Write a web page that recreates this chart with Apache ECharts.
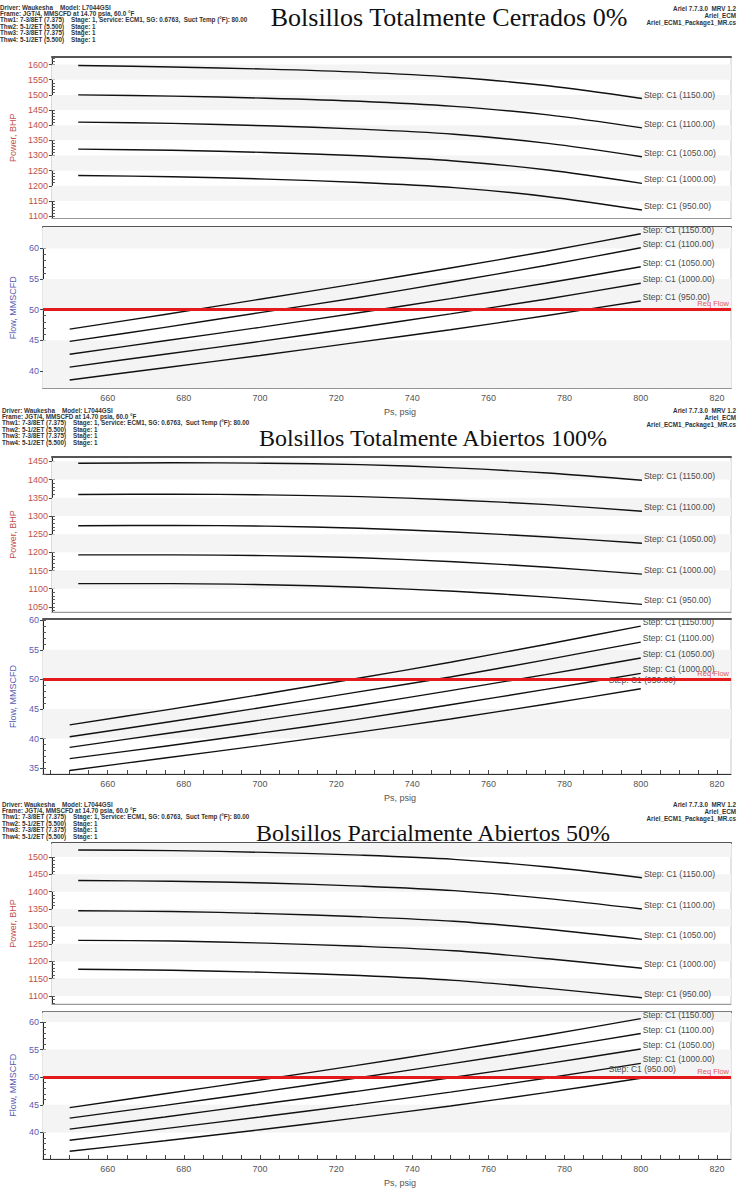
<!DOCTYPE html>
<html><head><meta charset="utf-8">
<script src="https://cdn.jsdelivr.net/npm/echarts@6/dist/echarts.min.js"></script>
<style>html,body{margin:0;padding:0;background:#fff}#c{width:738px;height:1188px}</style>
</head><body><div id="c"></div>
<script>
// ---------------- DATA ----------------
const psig = [650, 675, 700, 725, 750, 775, 800];
const xTicks = [660, 680, 700, 720, 740, 760, 780, 800, 820];
const stepLabels = ['Step: C1 (1150.00)', 'Step: C1 (1100.00)', 'Step: C1 (1050.00)', 'Step: C1 (1000.00)', 'Step: C1 (950.00)'];
const reqFlow = 50;

// Bolsillos Totalmente Cerrados 0%
const closedPower = [
  [1597, 1592, 1585, 1575, 1558, 1530, 1488],
  [1500, 1496, 1489, 1479, 1462, 1434, 1391],
  [1410, 1406, 1398, 1387, 1370, 1340, 1296],
  [1321, 1317, 1310, 1299, 1282, 1252, 1208],
  [1234, 1230, 1222, 1211, 1194, 1164, 1120]
];
const closedFlow = [
  [46.8, 49.2, 51.7, 54.2, 56.8, 59.5, 62.4],
  [44.8, 47.1, 49.5, 51.9, 54.5, 57.2, 60.1],
  [42.7, 44.9, 47.1, 49.4, 51.8, 54.3, 57.0],
  [40.6, 42.7, 44.8, 47.0, 49.3, 51.7, 54.3],
  [38.5, 40.5, 42.5, 44.6, 46.7, 49.0, 51.4]
];
// Bolsillos Totalmente Abiertos 100%
const openPower = [
  [1445, 1446, 1445, 1441, 1432, 1418, 1398],
  [1359, 1360, 1358, 1353, 1344, 1331, 1313],
  [1273, 1274, 1272, 1266, 1256, 1242, 1225],
  [1193, 1193, 1191, 1185, 1174, 1159, 1140],
  [1114, 1114, 1111, 1104, 1093, 1077, 1057]
];
const openFlow = [
  [42.3, 44.8, 47.4, 50.1, 52.9, 55.9, 59.0],
  [40.3, 42.7, 45.2, 47.8, 50.4, 53.3, 56.3],
  [38.5, 40.8, 43.1, 45.5, 48.1, 50.8, 53.6],
  [36.6, 38.7, 40.9, 43.2, 45.7, 48.3, 51.0],
  [34.6, 36.7, 38.8, 41.0, 43.3, 45.8, 48.4]
];
// Bolsillos Parcialmente Abiertos 50%
const halfPower = [
  [1520, 1518, 1513, 1505, 1493, 1471, 1440],
  [1432, 1430, 1425, 1416, 1403, 1380, 1350],
  [1345, 1343, 1337, 1328, 1315, 1292, 1263],
  [1260, 1258, 1252, 1243, 1230, 1207, 1180],
  [1177, 1174, 1168, 1159, 1145, 1122, 1095]
];
const halfFlow = [
  [44.5, 47.0, 49.5, 52.1, 54.8, 57.6, 60.6],
  [42.6, 44.9, 47.3, 49.8, 52.4, 55.1, 57.9],
  [40.6, 42.8, 45.1, 47.4, 49.9, 52.4, 55.1],
  [38.6, 40.7, 42.8, 45.0, 47.3, 49.8, 52.5],
  [36.6, 38.5, 40.5, 42.6, 44.8, 47.2, 49.8]
];

const closedPowerTicks = [1100, 1150, 1200, 1250, 1300, 1350, 1400, 1450, 1500, 1550, 1600];
const closedFlowTicks = [40, 45, 50, 55, 60];
const openPowerTicks = [1050, 1100, 1150, 1200, 1250, 1300, 1350, 1400, 1450];
const openFlowTicks = [35, 40, 45, 50, 55, 60];
const halfPowerTicks = [1100, 1150, 1200, 1250, 1300, 1350, 1400, 1450, 1500];
const halfFlowTicks = [40, 45, 50, 55, 60];

const titles = ['Bolsillos Totalmente Cerrados 0%', 'Bolsillos Totalmente Abiertos 100%', 'Bolsillos Parcialmente Abiertos 50%'];
const headerLeft = [
  'Driver: Waukesha    Model: L7044GSI',
  'Frame: JGT/4, MMSCFD at 14.70 psia, 60.0 °F',
  'Thw1: 7-3/8ET (7.375)    Stage: 1, Service: ECM1, SG: 0.6763,  Suct Temp (°F): 80.00',
  'Thw2: 5-1/2ET (5.500)    Stage: 1',
  'Thw3: 7-3/8ET (7.375)    Stage: 1',
  'Thw4: 5-1/2ET (5.500)    Stage: 1'
];
const headerRight = ['Ariel 7.7.3.0  MRV 1.2', 'Ariel_ECM', 'Ariel_ECM1_Package1_MR.cs'];

// ---------------- LAYOUT ----------------
const GL = 43, GW = 688;
const XMIN = 643, XMAX = 823.7;
const SANS = '"Liberation Sans", Arial, sans-serif';
const POWER_C = '#c0504d', FLOW_C = '#5a5ab4';

const panels = [
  {top: 57, h: 161.5, min: 1092, max: 1625, ticks: closedPowerTicks, minor: 10, kind: 'power', data: closedPower, bands: [[1550,1600],[1450,1500],[1350,1400],[1250,1300],[1150,1200]]},
  {top: 227, h: 161.5, min: 37.1, max: 63.5, ticks: closedFlowTicks, minor: 1, kind: 'flow', data: closedFlow, bands: [[60,63.5],[50,55],[37.1,45]], c950: false},
  {top: 457, h: 155, min: 1036, max: 1462, ticks: openPowerTicks, minor: 10, kind: 'power', data: openPower, bands: [[1400,1450],[1300,1350],[1200,1250],[1100,1150]]},
  {top: 619, h: 155, min: 34, max: 60.2, ticks: openFlowTicks, minor: 1, kind: 'flow', data: openFlow, bands: [[50,55],[40,45]], c950: true},
  {top: 843, h: 161, min: 1077, max: 1540, ticks: halfPowerTicks, minor: 10, kind: 'power', data: halfPower, bands: [[1500,1540],[1400,1450],[1300,1350],[1200,1250],[1100,1150]]},
  {top: 1011.7, h: 158.3, min: 35.2, max: 61.85, ticks: halfFlowTicks, minor: 1, kind: 'flow', data: halfFlow, bands: [[60,61.85],[50,55],[40,45]], c950: true}
];

const grid = [], xAxis = [], yAxis = [], series = [];
const xMinorTicks = [];
for (let v = 645; v <= 820; v += 5) xMinorTicks.push(v);
const plain = v => String(v);

panels.forEach((p, g) => {
  grid.push({left: GL, top: p.top, width: GW, height: p.h, show: true, borderColor: '#c8c8c8', borderWidth: 1, backgroundColor: '#fff'});
  const isFlow = p.kind === 'flow';
  xAxis.push({
    type: 'value', gridIndex: g, min: XMIN, max: XMAX, position: 'bottom',
    name: isFlow ? 'Ps, psig' : '', nameLocation: 'middle', nameGap: 19,
    nameTextStyle: {fontFamily: SANS, fontSize: 9, color: '#555', padding: [0, 0, 0, 26]},
    axisLine: {show: true, onZero: false, lineStyle: {color: isFlow ? '#333' : '#999', width: 1}},
    axisTick: {show: isFlow, inside: true, length: 4, customValues: xMinorTicks, lineStyle: {color: '#444'}},
    axisLabel: {show: isFlow, customValues: xTicks, formatter: plain, fontFamily: SANS, fontSize: 9, color: '#555', margin: 5},
    splitLine: {show: false}
  });
  xAxis.push({
    type: 'value', gridIndex: g, min: XMIN, max: XMAX, position: 'top',
    axisLine: {show: true, onZero: false, lineStyle: {color: '#555', width: 2}},
    axisTick: {show: false}, axisLabel: {show: false}, splitLine: {show: false}
  });
  const col = isFlow ? FLOW_C : POWER_C;
  yAxis.push({
    type: 'value', gridIndex: g, min: p.min, max: p.max, position: 'left',
    name: isFlow ? 'Flow, MMSCFD' : 'Power, BHP', nameLocation: 'middle', nameGap: 26,
    nameTextStyle: {fontFamily: SANS, fontSize: 9, color: col},
    axisLine: {show: true, onZero: false, lineStyle: {color: '#222', width: 1}},
    axisTick: {show: true, inside: false, length: 3, customValues: p.ticks, lineStyle: {color: '#444'}},
    axisLabel: {customValues: p.ticks, formatter: plain, fontFamily: SANS, fontSize: 9, color: col, margin: 4},
    splitLine: {show: false}
  });
  const minorVals = [];
  const st = p.minor;
  for (let v = Math.ceil(p.min / st) * st; v <= p.max; v += st) minorVals.push(+v.toFixed(3));
  yAxis.push({
    type: 'value', gridIndex: g, min: p.min, max: p.max, position: 'left',
    axisLine: {show: false},
    axisTick: {show: true, inside: true, length: 3, customValues: minorVals, lineStyle: {color: '#555'}},
    axisLabel: {show: false}, splitLine: {show: false}
  });
  p.data.forEach((arr, k) => {
    const s = {
      type: 'line', xAxisIndex: 2 * g, yAxisIndex: 2 * g, smooth: 0.3, symbol: 'none',
      data: psig.map((x, i) => [x, arr[i]]),
      lineStyle: {color: '#111', width: 1.4}, silent: true, animation: false,
      endLabel: {show: true, formatter: stepLabels[k], fontFamily: SANS, fontSize: 8.5, color: '#4a4a4a', offset: [0, -4], distance: 2}
    };
    if (isFlow && k === 4 && p.c950) {
      s.endLabel.offset = [-34, -9];
    }
    if (k === 0) {
      s.markArea = {silent: true, itemStyle: {color: '#f4f4f4'}, data: p.bands.map(b => [{yAxis: b[0]}, {yAxis: b[1]}])};
      if (isFlow) {
        s.markLine = {
          silent: true, symbol: 'none', animation: false,
          lineStyle: {color: '#e3191c', width: 3, type: 'solid'},
          label: {show: true, position: 'insideEndTop', formatter: 'Req Flow', fontFamily: SANS, fontSize: 7.5, color: '#e05a5a', distance: [2, 2]},
          data: [{yAxis: reqFlow}]
        };
      }
    }
    series.push(s);
  });
});

// ---------------- HEADERS ----------------
const headerCfg = [
  {lx: 0, ly: 7, ry: 8, tx: 449, ty: 17, fs: 26},
  {lx: 2, ly: 410, ry: 410, tx: 433, ty: 438, fs: 24},
  {lx: 2, ly: 804, ry: 804, tx: 433, ty: 833, fs: 24}
];
const graphic = [];
headerCfg.forEach((h, i) => {
  headerLeft.forEach((t, j) => graphic.push({type: 'text', z: 100, x: h.lx, y: h.ly + j * 6.4,
    style: {text: t, font: 'bold 6.3px ' + SANS, fill: '#333', textVerticalAlign: 'middle'}}));
  headerRight.forEach((t, j) => graphic.push({type: 'text', z: 100, x: 736, y: h.ry + j * 7,
    style: {text: t, font: 'bold 6.3px ' + SANS, fill: '#333', textAlign: 'right', textVerticalAlign: 'middle'}}));
  graphic.push({type: 'text', z: 100, x: h.tx, y: h.ty,
    style: {text: titles[i], font: h.fs + 'px "Liberation Serif", "Times New Roman", serif', fill: '#111', textAlign: 'center', textVerticalAlign: 'middle'}});
});

const chart = echarts.init(document.getElementById('c'), null, {renderer: 'svg', width: 738, height: 1188});
chart.setOption({animation: false, backgroundColor: '#fff', grid, xAxis, yAxis, series, graphic});
</script>
</body></html>
